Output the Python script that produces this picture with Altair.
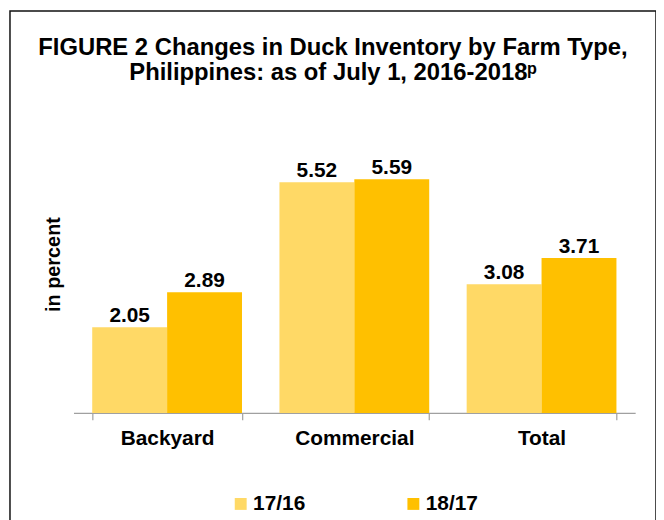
import altair as alt
import pandas as pd

categories = ["Backyard", "Commercial", "Total"]
series_names = ["17/16", "18/17"]
values_1716 = [2.05, 5.52, 3.08]
values_1817 = [2.89, 5.59, 3.71]
colors = ["#FFD966", "#FFC000"]

rows = []
for c, a, b in zip(categories, values_1716, values_1817):
    rows.append({"cat": c, "series": series_names[0], "value": a})
    rows.append({"cat": c, "series": series_names[1], "value": b})
df = pd.DataFrame(rows)

FONT = "Liberation Sans"

x = alt.X("cat:N", sort=categories, title=None,
          scale=alt.Scale(range=[64, 630], paddingInner=0.2, paddingOuter=0.1),
          axis=alt.Axis(offset=-116, labelAngle=0, labelFont=FONT, labelFontSize=21,
                        labelFontWeight="bold", labelColor="#000", labelPadding=8,
                        domainColor="#A0A0A0", domainWidth=1.2, tickColor="#A0A0A0",
                        tickWidth=1.2, tickSize=7, tickBand="extent", grid=False))
xo = alt.XOffset("series:N", sort=series_names, scale=alt.Scale(paddingInner=0, paddingOuter=0))
y = alt.Y("value:Q", title="in percent",
          scale=alt.Scale(domain=[-2.755, 9.62], nice=False, zero=False),
          axis=alt.Axis(offset=-64, domain=False, ticks=False, labels=False, grid=False,
                        titleFont=FONT, titleFontSize=20, titleFontWeight="bold",
                        titleColor="#000", titlePadding=10, titleY=255))

bars = alt.Chart(df).mark_bar().encode(
    x=x, xOffset=xo, y=y,
    color=alt.Color("series:N", sort=series_names,
                    scale=alt.Scale(domain=series_names, range=colors),
                    legend=alt.Legend(title=None, orient="none", direction="horizontal",
                                      legendX=222, legendY=486, padding=0,
                                      symbolType="square", symbolSize=144,
                                      symbolStrokeWidth=0, labelFont=FONT,
                                      labelFontSize=21, labelFontWeight="bold",
                                      labelColor="#000", labelOffset=2,
                                      columnPadding=98)),
)

labels = alt.Chart(df).mark_text(font=FONT, fontSize=21, fontWeight="bold",
                                 color="#000", baseline="alphabetic", dy=-5).encode(
    x=alt.X("cat:N", sort=categories), xOffset=xo, y=alt.Y("value:Q"),
    text=alt.Text("value:Q", format=".2f"),
)

chart = alt.layer(bars, labels).properties(
    width=651, height=521,
    padding={"left": 2, "top": 1, "right": 0, "bottom": 0},
    title=alt.TitleParams(
        text=["FIGURE 2 Changes in Duck Inventory by Farm Type,",
              "Philippines: as of July 1, 2016-2018\u1d56"],
        anchor="middle", offset=-75, font=FONT, fontSize=24, fontWeight="bold",
        color="#000", lineHeight=26),
).configure(background="white").configure_view(stroke="#111", strokeWidth=1.5)

chart.save("out.html", embed_options={"renderer": "svg", "actions": False})
